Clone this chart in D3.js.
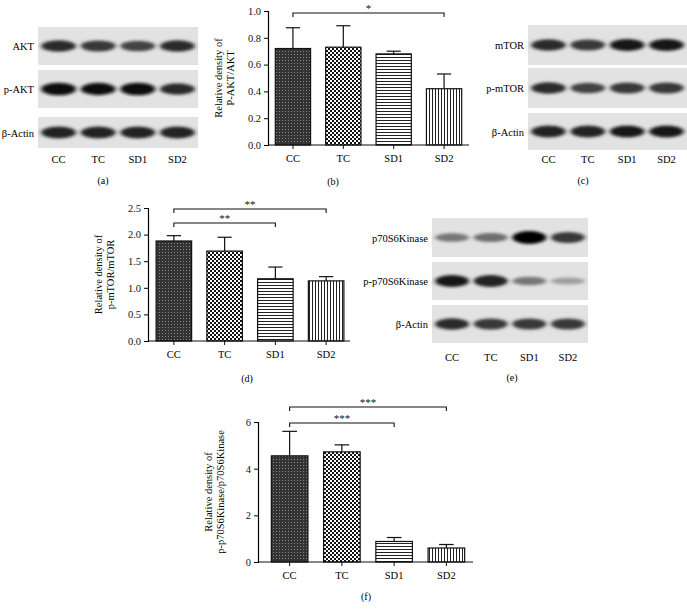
<!DOCTYPE html>
<html><head><meta charset="utf-8">
<script src="https://cdn.jsdelivr.net/npm/d3@7"></script>
<style>body{margin:0;background:#fff}svg text{font-family:'Liberation Serif','DejaVu Serif','Times New Roman',serif !important}</style>
</head><body>
<svg id="c" width="687" height="611" font-family="Liberation Serif, DejaVu Serif, serif"></svg>
<script>
const groups = ["CC","TC","SD1","SD2"];
const akt = [0.72,0.73,0.68,0.42], aktErr = [0.155,0.16,0.02,0.11];
const mtor = [1.88,1.69,1.17,1.13], mtorErr = [0.10,0.26,0.22,0.08];
const p70 = [4.55,4.72,0.88,0.60], p70Err = [1.05,0.30,0.17,0.15];
const ticksB = [0,0.2,0.4,0.6,0.8,1.0], ticksD = [0,0.5,1.0,1.5,2.0,2.5], ticksF = [0,2,4,6];
// blot band intensities (0..1) per lane
const blotA = {labels:["AKT","p-AKT","β-Actin"], bands:[[0.8,0.75,0.7,0.8],[0.95,0.92,0.95,0.8],[0.85,0.85,0.85,0.85]]};
const blotC = {labels:["mTOR","p-mTOR","β-Actin"], bands:[[0.8,0.75,0.9,0.9],[0.8,0.7,0.75,0.75],[0.85,0.85,0.9,0.9]]};
const blotE = {labels:["p70S6Kinase","p-p70S6Kinase","β-Actin"], bands:[[0.45,0.5,0.98,0.75],[0.9,0.85,0.45,0.25],[0.8,0.75,0.75,0.75]]};

const svg = d3.select("#c");
const defs = svg.append("defs");
defs.append("filter").attr("id","blur").attr("x","-30%").attr("y","-100%").attr("width","160%").attr("height","300%")
  .append("feGaussianBlur").attr("stdDeviation","2.2 1.4");
function pat(id, w, h, draw){const p=defs.append("pattern").attr("id",id).attr("patternUnits","userSpaceOnUse").attr("width",w).attr("height",h);draw(p);}
pat("pCC",3,3,p=>{p.append("rect").attr("width",3).attr("height",3).attr("fill","#333");p.append("rect").attr("width",1).attr("height",1).attr("fill","#888");});
pat("pTC",4,4,p=>{p.append("rect").attr("width",4).attr("height",4).attr("fill","#fff");p.append("rect").attr("width",2).attr("height",2).attr("fill","#111");p.append("rect").attr("x",2).attr("y",2).attr("width",2).attr("height",2).attr("fill","#111");});
pat("pSD1",4,3,p=>{p.append("rect").attr("width",4).attr("height",3).attr("fill","#fff");p.append("rect").attr("width",4).attr("height",1).attr("fill","#222");});
pat("pSD2",3,4,p=>{p.append("rect").attr("width",3).attr("height",4).attr("fill","#fff");p.append("rect").attr("width",1).attr("height",4).attr("fill","#222");});
const fills = ["url(#pCC)","url(#pTC)","url(#pSD1)","url(#pSD2)"];

function blot(b, x0, x1, strips, labelY){
  const g = svg.append("g");
  const lane = d3.scaleBand().domain(groups).range([x0,x1]).paddingInner(0.12).paddingOuter(0.08);
  strips.forEach((s,i)=>{
    g.append("rect").attr("x",x0).attr("y",s[0]).attr("width",x1-x0).attr("height",s[1]-s[0]).attr("fill","#e2e2e2");
    const cy=(s[0]+s[1])/2;
    groups.forEach((k,j)=>{
      const v=b.bands[i][j];
      g.append("ellipse").attr("cx",lane(k)+lane.bandwidth()/2).attr("cy",cy).attr("rx",lane.bandwidth()/2).attr("ry",2.5+4*v)
       .attr("fill",d3.interpolateGreys(0.3+0.7*v)).attr("filter","url(#blur)");
    });
    g.append("text").attr("x",x0-4).attr("y",cy+4).attr("text-anchor","end").attr("font-size",10.5).text(b.labels[i]);
  });
  groups.forEach(k=>g.append("text").attr("x",lane(k)+lane.bandwidth()/2).attr("y",labelY).attr("text-anchor","middle").attr("font-size",10.5).text(k));
}
blot(blotA,38,198,[[27,65],[70,108],[117,148]],163);
blot(blotC,528,687,[[25,65],[68,108],[113,150]],163);
blot(blotE,432,588,[[218,257],[262,300],[305,343]],361);
[["(a)",103,184],["(c)",583,184],["(e)",512,381],["(b)",333,185],["(d)",247,382],["(f)",366,600]]
  .forEach(c=>svg.append("text").attr("x",c[1]).attr("y",c[2]).attr("text-anchor","middle").attr("font-size",10).text(c[0]));

function bar(vals, errs, ticks, xr, axisX, axisEnd, yr, ymax, fmt, lab, labX, brackets){
  const g = svg.append("g");
  const x = d3.scaleBand().domain(groups).range(xr).paddingInner(0.3).paddingOuter(0.15);
  const y = d3.scaleLinear().domain([0,ymax]).range(yr);
  groups.forEach((k,i)=>{
    const cx=x(k)+x.bandwidth()/2;
    g.append("line").attr("x1",cx).attr("x2",cx).attr("y1",y(vals[i])).attr("y2",y(vals[i]+errs[i])).attr("stroke","#111").attr("stroke-width",1.2);
    g.append("line").attr("x1",cx-x.bandwidth()*0.2).attr("x2",cx+x.bandwidth()*0.2).attr("y1",y(vals[i]+errs[i])).attr("y2",y(vals[i]+errs[i])).attr("stroke","#111").attr("stroke-width",1.2);
    g.append("rect").attr("x",x(k)).attr("y",y(vals[i])).attr("width",x.bandwidth()).attr("height",y(0)-y(vals[i]))
      .attr("fill",fills[i]).attr("stroke","#111").attr("stroke-width",1.2);
  });
  const ya = g.append("g").attr("transform",`translate(${axisX},0)`).call(d3.axisLeft(y).tickValues(ticks).tickFormat(d3.format(fmt)).tickSize(4));
  ya.selectAll("text").attr("font-size",10.5).attr("fill","#111");
  ya.select(".domain").attr("stroke-width",1.2);
  g.append("line").attr("x1",axisX).attr("x2",axisEnd).attr("y1",y(0)).attr("y2",y(0)).attr("stroke","#111").attr("stroke-width",1.2);
  groups.forEach(k=>{const cx=x(k)+x.bandwidth()/2;
    g.append("line").attr("x1",cx).attr("x2",cx).attr("y1",y(0)).attr("y2",y(0)+4).attr("stroke","#111");
    g.append("text").attr("x",cx).attr("y",y(0)+17).attr("text-anchor","middle").attr("font-size",10.5).text(k);});
  const my=(yr[0]+yr[1])/2;
  const t=g.append("text").attr("transform",`translate(${labX},${my}) rotate(-90)`).attr("text-anchor","middle").attr("font-size",10.5);
  t.append("tspan").attr("x",0).attr("dy",0).text(lab[0]);
  t.append("tspan").attr("x",0).attr("dy",12).text(lab[1]);
  brackets.forEach(b=>{
    const a=x(groups[b[0]])+x.bandwidth()/2, c=x(groups[b[1]])+x.bandwidth()/2;
    g.append("path").attr("d",`M${a},${b[2]+4}V${b[2]}H${c}V${b[2]+4}`).attr("fill","none").attr("stroke","#111").attr("stroke-width",1.1);
    g.append("text").attr("x",(a+c)/2).attr("y",b[2]-1).attr("text-anchor","middle").attr("font-size",11).attr("fill","#111").text(b[3]);
  });
}
bar(akt,aktErr,ticksB,[267.75,469.25],268,469,[145,11],1.0,".1f",["Relative density of","P-AKT/AKT"],222,[[0,3,13,"*"]]);
bar(mtor,mtorErr,ticksD,[148.5,351.5],148,350,[341,208],2.5,".1f",["Relative density of","p-mTOR/mTOR"],102,[[0,3,209,"**"],[0,2,223,"**"]]);
bar(p70,p70Err,ticksF,[263.5,472.5],258,473,[562,422],6,"d",["Relative density of","p-p70S6Kinase/p70S6Kinase"],212,[[0,3,407,"***"],[0,2,423,"***"]]);
</script>
</body></html>
